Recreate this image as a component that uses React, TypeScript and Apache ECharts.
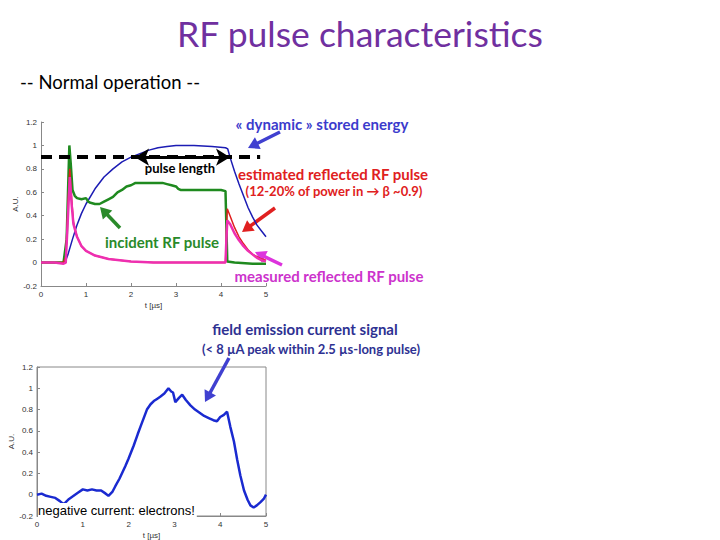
import React, { useEffect, useRef } from "react";
import * as echarts from "echarts";

const titleText = "RF pulse characteristics";
const subtitleText = "-- Normal operation --";

// stored energy (blue)
const blueT = [0.53, 0.6, 0.7, 0.8, 0.9, 1.0, 1.2, 1.4, 1.6, 1.8, 2.0, 2.2, 2.4, 2.6, 2.8, 3.0, 3.4, 3.8, 4.1, 4.15, 4.2, 4.3, 4.4, 4.5, 4.6, 4.7, 4.8, 4.9, 5.0];
const blueV = [0, 0.07, 0.2, 0.32, 0.42, 0.5, 0.63, 0.73, 0.8, 0.86, 0.9, 0.93, 0.96, 0.98, 0.99, 1.0, 1.0, 0.99, 0.98, 0.97, 0.9, 0.78, 0.67, 0.57, 0.47, 0.39, 0.32, 0.27, 0.22];

// incident RF pulse (green)
const greenT = [0, 0.5, 0.57, 0.6, 0.63, 0.66, 0.7, 0.75, 0.8, 0.9, 1.0, 1.05, 1.1, 1.2, 1.3, 1.4, 1.5, 1.6, 1.7, 1.8, 1.9, 2.0, 2.1, 2.3, 2.5, 2.7, 2.8, 2.9, 3.0, 3.05, 3.1, 3.5, 4.0, 4.1, 4.12, 4.14, 4.3, 4.7, 5.0];
const greenV = [0, 0, 0.2, 0.6, 1.0, 0.85, 0.62, 0.57, 0.55, 0.54, 0.55, 0.52, 0.51, 0.5, 0.5, 0.52, 0.54, 0.56, 0.6, 0.62, 0.65, 0.66, 0.68, 0.68, 0.68, 0.68, 0.67, 0.66, 0.65, 0.63, 0.62, 0.62, 0.62, 0.61, 0.3, 0.01, 0, -0.01, -0.01];

// estimated reflected RF pulse (red)
const redT = [0, 0.5, 0.55, 0.6, 0.64, 0.68, 0.72, 0.8, 0.9, 1.0, 1.2, 1.5, 2.0, 2.5, 4.1, 4.12, 4.14, 4.2, 4.3, 4.4, 4.5, 4.6, 4.7, 4.8, 4.9, 5.0];
const redV = [0, 0, 0.05, 0.5, 0.8, 0.55, 0.35, 0.22, 0.14, 0.1, 0.06, 0.03, 0.01, 0, 0, 0.25, 0.46, 0.4, 0.3, 0.22, 0.16, 0.11, 0.07, 0.05, 0.03, 0.02];

// measured reflected RF pulse (magenta)
const magT = [0, 0.3, 0.5, 0.55, 0.6, 0.64, 0.68, 0.72, 0.8, 0.9, 1.0, 1.2, 1.5, 2.0, 2.5, 4.1, 4.12, 4.14, 4.2, 4.3, 4.4, 4.5, 4.6, 4.7, 4.8, 4.9, 5.0];
const magV = [0, 0, -0.01, 0, 0.4, 0.73, 0.5, 0.33, 0.22, 0.14, 0.1, 0.06, 0.03, 0.01, 0, 0, 0.2, 0.36, 0.33, 0.25, 0.19, 0.14, 0.1, 0.07, 0.04, 0.02, 0.01];

// field emission current signal
const feT = [0, 0.1, 0.2, 0.3, 0.4, 0.5, 0.58, 0.7, 0.8, 0.9, 1.0, 1.1, 1.2, 1.3, 1.4, 1.5, 1.56, 1.65, 1.71, 1.8, 1.93, 2.0, 2.11, 2.2, 2.26, 2.33, 2.4, 2.48, 2.55, 2.62, 2.69, 2.78, 2.87, 2.93, 2.97, 3.02, 3.1, 3.17, 3.25, 3.35, 3.45, 3.55, 3.65, 3.75, 3.85, 3.93, 4.0, 4.08, 4.15, 4.22, 4.3, 4.37, 4.44, 4.52, 4.6, 4.66, 4.73, 4.8, 4.88, 4.95, 5.0];
const feV = [0, 0.01, -0.01, -0.02, -0.03, -0.06, -0.09, -0.04, -0.01, 0.02, 0.05, 0.04, 0.05, 0.04, 0.04, 0.01, -0.01, 0.03, 0.08, 0.15, 0.27, 0.34, 0.46, 0.57, 0.64, 0.72, 0.8, 0.85, 0.88, 0.9, 0.92, 0.95, 1.0, 0.97, 0.96, 0.87, 0.91, 0.94, 0.89, 0.84, 0.8, 0.77, 0.74, 0.72, 0.7, 0.69, 0.73, 0.75, 0.78, 0.64, 0.5, 0.33, 0.18, 0.04, -0.05, -0.1, -0.12, -0.1, -0.07, -0.04, 0];

// annotation line: threshold and pulse length
const thresholdLevel = 0.9;
const dashStartT = 0;
const dashEndT = 4.87;
const pulseStartT = 2.09;
const pulseEndT = 4.2;

const zip = (t: number[], v: number[]) => t.map((x, i) => [x, v[i]]);

function arrow(x1: number, y1: number, x2: number, y2: number, color: string, w = 3.5) {
  const dx = x2 - x1;
  const dy = y2 - y1;
  const len = Math.sqrt(dx * dx + dy * dy);
  const ux = dx / len;
  const uy = dy / len;
  const hl = 11;
  const hw = 6.5;
  const bx = x2 - ux * hl;
  const by = y2 - uy * hl;
  return {
    type: "group",
    children: [
      {
        type: "line",
        shape: { x1, y1, x2: bx + ux * 1, y2: by + uy * 1 },
        style: { stroke: color, lineWidth: w },
      },
      {
        type: "polygon",
        shape: {
          points: [
            [x2, y2],
            [bx - uy * hw, by + ux * hw],
            [bx + uy * hw, by - ux * hw],
          ],
        },
        style: { fill: color },
      },
    ],
  };
}

function txt(text: string, x: number, y: number, font: string, fill: string, align = "center", extra: any = {}) {
  return {
    type: "text",
    x,
    y,
    style: { text, font, fill, align, verticalAlign: "middle", ...extra },
    z: 100,
  };
}

const axisLabelStyle = { color: "#333", fontSize: 8, fontFamily: "Liberation Sans" };
const axisLineStyle = { lineStyle: { color: "#888", width: 1 } };

export default function App() {
  const ref = useRef<HTMLDivElement>(null);
  useEffect(() => {
    if (!ref.current) return;
    const chart = echarts.init(ref.current, undefined, { renderer: "svg" });
    const option: any = {
      animation: false,
      backgroundColor: "#ffffff",
      grid: [
        { left: 41, top: 122, width: 225, height: 164, containLabel: false },
        {
          left: 37, top: 367, width: 229, height: 150, containLabel: false,
          show: true, borderColor: "#888", borderWidth: 1, backgroundColor: "transparent",
        },
      ],
      xAxis: [0, 1].map((g) => ({
        type: "value",
        gridIndex: g,
        min: 0,
        max: 5,
        interval: 1,
        name: "t [\u00b5s]",
        nameLocation: "middle",
        nameGap: 15,
        nameTextStyle: { color: "#333", fontSize: 8, fontFamily: "Liberation Sans" },
        axisLine: { show: true, onZero: false, ...axisLineStyle },
        axisTick: { show: true, inside: true, length: 3, lineStyle: { color: "#888" } },
        axisLabel: { ...axisLabelStyle, margin: 4 },
        splitLine: { show: false },
      })),
      yAxis: [0, 1].map((g) => ({
        type: "value",
        gridIndex: g,
        min: -0.2,
        max: 1.2,
        interval: 0.2,
        name: "A.U.",
        nameLocation: "middle",
        nameGap: 21,
        nameRotate: 90,
        nameTextStyle: { color: "#333", fontSize: 8, fontFamily: "Liberation Sans" },
        axisLine: { show: true, onZero: false, ...axisLineStyle },
        axisTick: { show: true, inside: true, length: 3, lineStyle: { color: "#888" } },
        axisLabel: {
          ...axisLabelStyle,
          margin: 4,
          formatter: (v: number) => String(Math.round(v * 10) / 10),
        },
        splitLine: { show: false },
      })),
      series: [
        {
          type: "line", xAxisIndex: 0, yAxisIndex: 0, showSymbol: false, symbol: "none",
          data: zip(blueT, blueV), lineStyle: { color: "#1c1cb4", width: 1.5 }, z: 2,
        },
        {
          type: "line", xAxisIndex: 0, yAxisIndex: 0, showSymbol: false, symbol: "none",
          data: zip(greenT, greenV), lineStyle: { color: "#1f8a1f", width: 2.5 }, z: 3,
        },
        {
          type: "line", xAxisIndex: 0, yAxisIndex: 0, showSymbol: false, symbol: "none",
          data: zip(redT, redV), lineStyle: { color: "#e01e1e", width: 1.5 }, z: 4,
        },
        {
          type: "line", xAxisIndex: 0, yAxisIndex: 0, showSymbol: false, symbol: "none",
          data: zip(magT, magV), lineStyle: { color: "#ee2fb0", width: 2.5 }, z: 5,
        },
        {
          type: "line", xAxisIndex: 0, yAxisIndex: 0, showSymbol: false, symbol: "none",
          data: [], z: 6,
          markLine: {
            silent: true,
            label: { show: false },
            data: [
              [
                { coord: [dashStartT, thresholdLevel], symbol: "none", lineStyle: { color: "#000", width: 4, type: [11, 7] } },
                { coord: [dashEndT, thresholdLevel], symbol: "none" },
              ],
              [
                { coord: [pulseStartT, thresholdLevel], symbol: "arrow", symbolSize: [13, 14], lineStyle: { color: "#000", width: 3, type: "solid" } },
                { coord: [pulseEndT, thresholdLevel], symbol: "arrow", symbolSize: [13, 14] },
              ],
            ],
          },
        },
        {
          type: "line", xAxisIndex: 1, yAxisIndex: 1, showSymbol: false, symbol: "none",
          data: zip(feT, feV), lineStyle: { color: "#1a2ad0", width: 2.5 }, z: 2,
        },
      ],
      graphic: [
        txt(titleText, 360, 33, "35.5px Lato", "#7030a0", "center", {
          shadowColor: "rgba(0,0,0,0.2)", shadowOffsetX: 1, shadowOffsetY: 1,
        }),
        txt(subtitleText, 20, 82, "18.5px Lato", "#000", "left"),
        txt("\u00ab dynamic \u00bb stored energy", 322, 124, "bold 15px Lato", "#3b3bcc"),
        txt("pulse length", 180, 168, "bold 13px Lato", "#000"),
        txt("estimated reflected RF pulse", 333, 174, "bold 15px Lato", "#e02020"),
        txt("(12-20% of power in \u2192 \u03b2 ~0.9)", 334, 191, "bold 13px Lato", "#e02020"),
        txt("incident RF pulse", 162, 242, "bold 15px Lato", "#2a8a2a"),
        txt("measured reflected RF pulse", 329, 276, "bold 15px Lato", "#cc33cc"),
        txt("field emission current signal", 305, 329, "bold 15px Lato", "#2e3192"),
        txt("(< 8 \u00b5A peak within 2.5 \u00b5s-long pulse)", 311, 349, "bold 13px Lato", "#2e3192"),
        txt("negative current: electrons!", 38, 510, "13px 'Liberation Sans Narrow', 'Liberation Sans'", "#000", "left", {
          backgroundColor: "#fff", padding: [1, 2, 0, 0],
        }),
        arrow(280, 132, 248, 148, "#4040d0"),
        arrow(275, 208, 242, 232, "#e02020"),
        arrow(120, 228, 100, 207, "#2a8a2a"),
        arrow(282, 265, 255, 252, "#dd33dd"),
        arrow(229, 358, 205, 402, "#4040d0"),
      ],
    };
    chart.setOption(option);
    return () => chart.dispose();
  }, []);
  return (
    <div
      ref={ref}
      style={{ position: "absolute", left: 0, top: 0, width: 720, height: 540, background: "#fff" }}
    />
  );
}
